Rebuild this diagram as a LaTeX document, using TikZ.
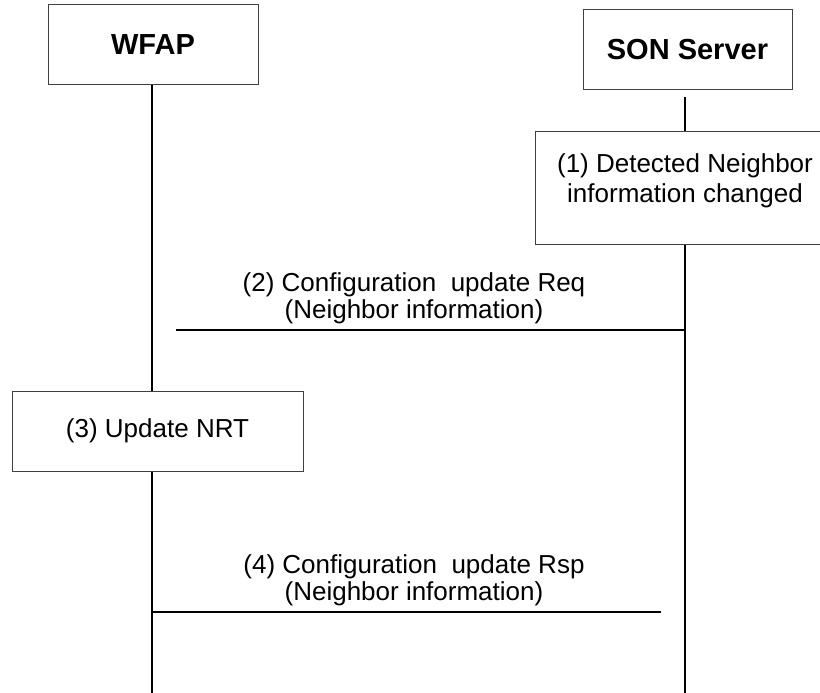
\documentclass[tikz,border=0pt]{standalone}
\usepackage{fontspec}
\setmainfont{Liberation Sans}
\begin{document}
\begin{tikzpicture}[x=1pt,y=-1pt,
  lbox/.style={draw=black!75, line width=1pt, fill=white, inner sep=0pt},
  life/.style={line width=2pt},
  msg/.style={line width=2pt},
  txt/.style={font=\fontsize{26}{27}\selectfont, align=center, inner sep=0pt},
  boxtxt/.style={font=\fontsize{26}{30}\selectfont, align=center, inner sep=0pt},
  head/.style={font=\fontsize{29}{32}\selectfont\bfseries}]
\useasboundingbox (0,0) rectangle (820,693);
\clip (0,0) rectangle (820,693);

% entities
\node[lbox, head, minimum width=210pt, minimum height=80pt] (wfap) at (153,45) {WFAP};
\node[lbox, head, minimum width=209pt, minimum height=80pt] (son) at (687.5,50) {SON Server};

% local actions
\node[lbox, minimum width=300pt, minimum height=113pt] (det) at (685,187.5) {};
\node[boxtxt] (detlbl) at ([yshift=7pt]det.center)
  {(1) Detected Neighbor\\information changed};
\node[lbox, boxtxt, minimum width=291pt, minimum height=80pt] (upd) at (157.5,431)
  {(3) Update NRT};

% lifelines
\coordinate (wfapEnd) at (152,693);
\coordinate (sonTop) at (685,97);
\coordinate (sonEnd) at (685,693);
\draw[life] (wfapEnd |- wfap.south) -- (wfapEnd |- upd.north);
\draw[life] (wfapEnd |- upd.south) -- (wfapEnd);
\draw[life] (sonTop) -- (det.north);
\draw[life] (det.south) -- (sonEnd);

% messages
\coordinate (m2start) at (176,330);
\draw[msg] (m2start) -- (m2start -| sonEnd);
\node[txt, anchor=south] (m2lbl) at (414,324)
  {(2) Configuration~ update Req\\(Neighbor information)};

\coordinate (m4end) at (661,612);
\draw[msg] (m4end -| wfapEnd) -- (m4end);
\node[txt, anchor=south] (m4lbl) at (414,606)
  {(4) Configuration~ update Rsp\\(Neighbor information)};
\end{tikzpicture}
\end{document}
